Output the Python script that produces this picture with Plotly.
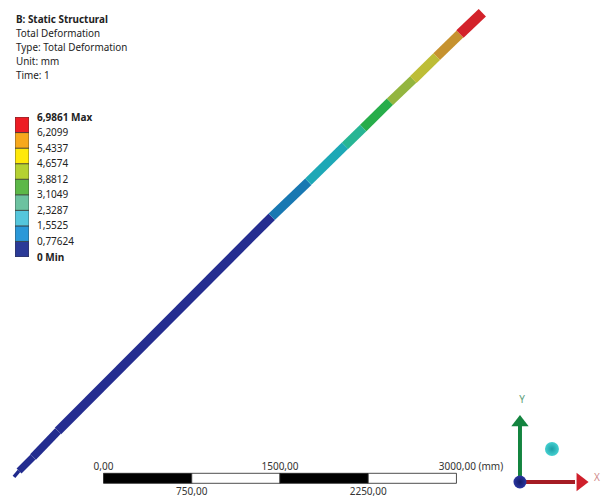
import plotly.graph_objects as go

# Model-space values, in mm (the scale bar defines the axis scale)
rod_nodes_x = [-761, -718, -599, -387, 1430, 1741, 2053, 2208, 2435, 2633, 2832, 3030, 3220]
rod_nodes_y = [54, 105, 224, 445, 2266, 2564, 2870, 3020, 3244, 3432, 3626, 3819, 4000]
rod_colors = ["#1f2a8c", "#232c8f", "#232c8f", "#252d90", "#1878b2", "#1da8b6", "#27b594",
              "#27ad4a", "#93b53f", "#bdbd36", "#c6922f", "#d3222a"]
rod_widths = [3.5, 7, 8, 9, 9, 9, 9, 9, 9, 9.5, 9.5, 10.5]

contour_values = [0, 0.77624, 1.5525, 2.3287, 3.1049, 3.8812, 4.6574, 5.4337, 6.2099, 6.9861]
contour_labels = ["<b>0 Min</b>", "0,77624", "1,5525", "2,3287", "3,1049", "3,8812", "4,6574",
                  "5,4337", "6,2099", "<b>6,9861 Max</b>"]
band_colors = ["#2b3a97", "#2a98d8", "#55c6dc", "#6cc2a0", "#5cb848", "#b5d132",
               "#ffe90a", "#f7a81c", "#ed1c24"]

scale_starts = [0, 750, 1500, 2250]
scale_step = 750
scale_colors = ["#000000", "#ffffff", "#000000", "#ffffff"]
scale_top_labels = ["0,00", "1500,00", "3000,00 (mm)"]
scale_bottom_labels = ["750,00", "2250,00"]

header_lines = ["<b>B: Static Structural</b>", "Total Deformation", "Type: Total Deformation",
                "Unit: mm", "Time: 1"]

W, H = 603, 500
MM_PER_PX = 8.5
x0_px, y0_px = 103.5, 483.3
FONT = "Noto Sans"

fig = go.Figure()

# Rod, one trace per contour-coloured piece
for i, col in enumerate(rod_colors):
    fig.add_trace(go.Scatter(x=rod_nodes_x[i:i + 2], y=rod_nodes_y[i:i + 2], mode="lines",
                             line=dict(color=col, width=rod_widths[i]), showlegend=False,
                             hoverinfo="skip"))

# Scale bar
fig.add_trace(go.Bar(y=[42.5] * 4, x=[scale_step] * 4, base=scale_starts, width=85, orientation="h",
                     marker=dict(color=scale_colors, line=dict(color="#222222", width=0.8)),
                     showlegend=False, hoverinfo="skip"))
fig.add_trace(go.Scatter(x=[0, 1500, 3124], y=[138, 138, 138], mode="text", text=scale_top_labels,
                         textfont=dict(family=FONT, size=10, color="#333333"), showlegend=False,
                         hoverinfo="skip"))
fig.add_trace(go.Scatter(x=[750, 2250], y=[-82, -82], mode="text", text=scale_bottom_labels,
                         textfont=dict(family=FONT, size=10, color="#333333"), showlegend=False,
                         hoverinfo="skip"))

# Triad
fig.add_trace(go.Scatter(x=[3540, 3540], y=[11, 495], mode="lines",
                         line=dict(color="#13843f", width=4), showlegend=False, hoverinfo="skip"))
fig.add_trace(go.Scatter(x=[3540, 4008], y=[11, 11], mode="lines",
                         line=dict(color="#a51c24", width=4), showlegend=False, hoverinfo="skip"))
fig.add_trace(go.Scatter(x=[3540], y=[517], mode="markers",
                         marker=dict(symbol="triangle-up", size=15, color="#13843f"),
                         showlegend=False, hoverinfo="skip"))
fig.add_trace(go.Scatter(x=[4055], y=[11], mode="markers",
                         marker=dict(symbol="triangle-right", size=16, color="#cf1f2b"),
                         showlegend=False, hoverinfo="skip"))
fig.add_trace(go.Scatter(x=[3540], y=[11], mode="markers",
                         marker=dict(size=13, color="#2a36a0", gradient=dict(type="radial", color="#141c6a")),
                         showlegend=False, hoverinfo="skip"))
fig.add_trace(go.Scatter(x=[3812], y=[292], mode="markers",
                         marker=dict(size=14, color="#45d0d0", line=dict(width=0),
                                     gradient=dict(type="radial", color="#1a9ea6")),
                         showlegend=False, hoverinfo="skip"))
fig.add_trace(go.Scatter(x=[3557, 4195], y=[700, 45], mode="text", text=["Y", "X"],
                         textfont=dict(family=FONT, size=10, color=["#5d9e78", "#d08a8a"]),
                         showlegend=False, hoverinfo="skip"))

# Contour legend
fig.add_trace(go.Bar(x=[0] * 9, y=[contour_values[i + 1] - contour_values[i] for i in range(9)],
                     base=contour_values[:-1], width=1, xaxis="x2", yaxis="y2",
                     marker=dict(color=band_colors, line=dict(color="#333333", width=0.7)),
                     showlegend=False, hoverinfo="skip"))

annotations = [dict(text=t, xref="paper", yref="paper", x=14 / W, y=1 - (19 + 14 * i) / H,
                    xanchor="left", yanchor="middle", showarrow=False,
                    font=dict(family=FONT, size=9.9, color="#222222"))
               for i, t in enumerate(header_lines)]

hidden = dict(visible=False, showgrid=False, zeroline=False)
fig.update_layout(
    width=W, height=H, margin=dict(l=0, r=0, t=0, b=0), autosize=False,
    paper_bgcolor="white", plot_bgcolor="white", barmode="overlay",
    xaxis=dict(range=[-x0_px * MM_PER_PX, (W - x0_px) * MM_PER_PX], domain=[0, 1], **hidden),
    yaxis=dict(range=[-(H - y0_px) * MM_PER_PX, y0_px * MM_PER_PX], domain=[0, 1], **hidden),
    xaxis2=dict(range=[-0.5, 0.5], domain=[15 / W, 29 / W], anchor="y2", **hidden),
    yaxis2=dict(range=[0, contour_values[-1]], domain=[1 - 257 / H, 1 - 117 / H], anchor="x2",
                side="right", tickmode="array", tickvals=contour_values, ticktext=contour_labels,
                ticks="", showline=False, showgrid=False, zeroline=False, ticklabelstandoff=7,
                tickfont=dict(family=FONT, size=10, color="#222222"), automargin=False),
    annotations=annotations,
)
fig.write_html("out.html", config=dict(displayModeBar=False),
               post_script="document.body.style.margin='0';document.documentElement.style.overflow='hidden';")
